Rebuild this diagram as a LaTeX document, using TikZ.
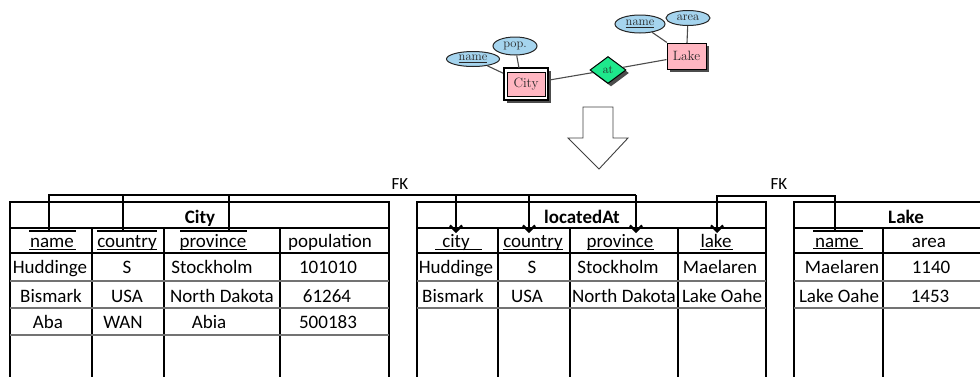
\documentclass[tikz,border=0pt]{standalone}
\usepackage{fontspec}
\newfontfamily\tabfont{Carlito}
\usetikzlibrary{shapes.geometric,arrows.meta,shadows}

\definecolor{entpink}{RGB}{255,182,193}
\definecolor{relgreen}{RGB}{30,232,140}
\definecolor{attrblue}{RGB}{165,212,238}

\tikzset{
  frame/.style={line width=2.3pt, line cap=rect},
  rowline/.style={line width=1.5pt, black!55},
  keybar/.style={line width=2.5pt},
  keyline/.style={line width=1.7pt},
  fk/.style={line width=2.8pt},
  fkarrow/.style={fk, -{Straight Barb[length=6pt,width=12pt,line width=2.2pt]}},
  cell/.style={anchor=base, inner sep=0pt, font=\tabfont\fontsize{19}{21}\selectfont},
  titlecell/.style={cell, font=\tabfont\bfseries\fontsize{19}{21}\selectfont},
  fklabel/.style={anchor=base, inner sep=0pt, font=\tabfont\fontsize{17}{19}\selectfont},
  ershadow/.style={drop shadow={shadow xshift=3pt, shadow yshift=-3pt, fill=black!70, opacity=1}},
  entity/.style={rectangle, draw=black, line width=1pt, fill=entpink, inner sep=0pt,
    text=black!85, font=\fontsize{13.5}{15}\selectfont},
  relation/.style={diamond, draw=black, line width=1pt, fill=relgreen, inner sep=0pt,
    minimum width=36pt, minimum height=27pt, text=black!85, font=\fontsize{12}{13}\selectfont, ershadow},
  attribute/.style={ellipse, draw=black!85, line width=1pt, fill=attrblue, inner sep=0pt,
    text=black!85, font=\fontsize{12.5}{14}\selectfont},
  erline/.style={line width=1.1pt, black!70},
  bigarrow/.style={line width=0.9pt, black!75, fill=white, line join=miter}
}

\begin{document}
\begin{tikzpicture}[x=1pt,y=-1pt]
\useasboundingbox (0,0) rectangle (980,376);

% ---------------- E/R diagram ----------------
\node[rectangle, draw=black, line width=1.8pt, fill=white, minimum width=44pt,
      minimum height=32pt, inner sep=0pt, ershadow] (cityframe) at (526,84) {};
\node[entity, minimum width=38pt, minimum height=24pt] (city) at (526,84) {City};
\node[entity, minimum width=39pt, minimum height=26pt, ershadow] (lake) at (686.5,56) {Lake};
\node[relation] (at) at (608,70) {at};
\node[attribute, minimum width=53pt, minimum height=15pt] (ename) at (473,59) {\underline{name}};
\node[attribute, minimum width=44pt, minimum height=18pt] (epop) at (515,46) {pop.};
\node[attribute, minimum width=50pt, minimum height=18pt] (elname) at (640,24) {\underline{name}};
\node[attribute, minimum width=44pt, minimum height=15pt] (earea) at (688,18) {area};

\coordinate (popfoot) at (519,68);
\coordinate (areafoot) at (687,43);
\draw[erline] (ename) -- (cityframe);
\draw[erline] (epop) -- (popfoot);
\draw[erline] (cityframe) -- (at);
\draw[erline] (at) -- (lake);
\draw[erline] (elname) -- (lake);
\draw[erline] (earea) -- (areafoot);

% translation arrow
\draw[bigarrow] (583,107) -- (613,107) -- (613,138) -- (628,138) -- (599,169)
  -- (568,138) -- (583,138) -- cycle;

% ---------------- table City ----------------
\draw[frame] (10,376) -- (10,202) -- (389,202) -- (389,376);
\draw[frame] (10,228) -- (389,228);
\draw[frame] (10,253) -- (389,253);
\foreach \cx in {92,164,280} \draw[frame] (\cx,228) -- (\cx,376);
\foreach \ry in {281,308,335} \draw[rowline] (10,\ry) -- (389,\ry);

\node[titlecell] (cityT) at (200,223) {City};
\node[cell] (cityH1) at (52,247) {name};
\node[cell] (cityH2) at (127,247) {country};
\node[cell] (cityH3) at (213,247) {province};
\node[cell] (cityH4) at (330,247) {population};
\node[cell] (cityA1) at (50,273) {Huddinge};
\node[cell] (cityA2) at (127,273) {S};
\node[cell] (cityA3) at (212,273) {Stockholm};
\node[cell] (cityA4) at (328,273) {101010};
\node[cell] (cityB1) at (51,302) {Bismark};
\node[cell] (cityB2) at (127,302) {USA};
\node[cell] (cityB3) at (222,302) {North Dakota};
\node[cell] (cityB4) at (327,302) {61264};
\node[cell] (cityC1) at (48,328) {Aba};
\node[cell] (cityC2) at (123,328) {WAN};
\node[cell] (cityC3) at (209,328) {Abia};
\node[cell] (cityC4) at (328,328) {500183};

% key marks of City
\draw[keybar] (29,231) -- (76,231);
\draw[keybar] (97,231) -- (157,231);
\draw[keybar] (180,231) -- (247,231);
\draw[keyline] (29,249.5) -- (76,249.5);
\draw[keyline] (97,249.5) -- (157,249.5);
\draw[keyline] (180,249.5) -- (247,249.5);

% ---------------- table locatedAt ----------------
\draw[frame] (417,376) -- (417,202) -- (766,202) -- (766,376);
\draw[frame] (417,228) -- (766,228);
\draw[frame] (417,253) -- (766,253);
\foreach \cx in {498,570,678} \draw[frame] (\cx,228) -- (\cx,376);
\foreach \ry in {281,308} \draw[rowline] (417,\ry) -- (766,\ry);

\node[titlecell] (locT) at (582,223) {locatedAt};
\node[cell] (locH1) at (456,247) {city};
\node[cell] (locH2) at (533,247) {country};
\node[cell] (locH3) at (620,247) {province};
\node[cell] (locH4) at (716,247) {lake};
\node[cell] (locA1) at (456,273) {Huddinge};
\node[cell] (locA2) at (532,273) {S};
\node[cell] (locA3) at (618,273) {Stockholm};
\node[cell] (locA4) at (720,273) {Maelaren};
\node[cell] (locB1) at (453,302) {Bismark};
\node[cell] (locB2) at (527,302) {USA};
\node[cell] (locB3) at (624,302) {North Dakota};
\node[cell] (locB4) at (722,302) {Lake Oahe};

\draw[keyline] (435,249.5) -- (482,249.5);
\draw[keyline] (503,249.5) -- (563,249.5);
\draw[keyline] (587,249.5) -- (654,249.5);
\draw[keyline] (700,249.5) -- (733,249.5);

% ---------------- table Lake ----------------
\draw[frame] (794,376) -- (794,202) -- (985,202);
\draw[frame] (794,228) -- (985,228);
\draw[frame] (794,253) -- (985,253);
\draw[frame] (883,228) -- (883,376);
\foreach \ry in {281,308} \draw[rowline] (794,\ry) -- (985,\ry);

\node[titlecell] (lakeT) at (906,223) {Lake};
\node[cell] (lakeH1) at (837,247) {name};
\node[cell] (lakeH2) at (929,247) {area};
\node[cell] (lakeA1) at (842,273) {Maelaren};
\node[cell] (lakeA2) at (931,273) {1140};
\node[cell] (lakeB1) at (839,302) {Lake Oahe};
\node[cell] (lakeB2) at (930,302) {1453};

\draw[keybar] (813,231) -- (863,231);
\draw[keyline] (813,248.5) -- (863,248.5);

% ---------------- foreign keys ----------------
\coordinate (kCname) at (49,231);
\coordinate (kCcountry) at (123,231);
\coordinate (kCprov) at (229,231);
\coordinate (kLcity) at (456,233);
\coordinate (kLcountry) at (529,233);
\coordinate (kLprov) at (636,233);
\coordinate (busA) at (49,195);
\coordinate (busB) at (636,195);
\draw[fk, line join=miter] (kCname) -- (busA) -- (busB);
\draw[fk] (kCcountry) -- (kCcountry |- busA);
\draw[fk] (kCprov) -- (kCprov |- busA);
\draw[fkarrow] (kLcity |- busA) -- (kLcity);
\draw[fkarrow] (kLcountry |- busA) -- (kLcountry);
\draw[fkarrow] (busB) -- (kLprov);

\coordinate (kLlake) at (717,233);
\coordinate (kKname) at (835,231);
\coordinate (busC) at (835,196);
\coordinate (busD) at (717,196);
\draw[fkarrow, line join=miter] (kKname) -- (busC) -- (busD) -- (kLlake);

\node[fklabel] (fkOne) at (400,189) {FK};
\node[fklabel] (fkTwo) at (779,189) {FK};
\end{tikzpicture}
\end{document}
